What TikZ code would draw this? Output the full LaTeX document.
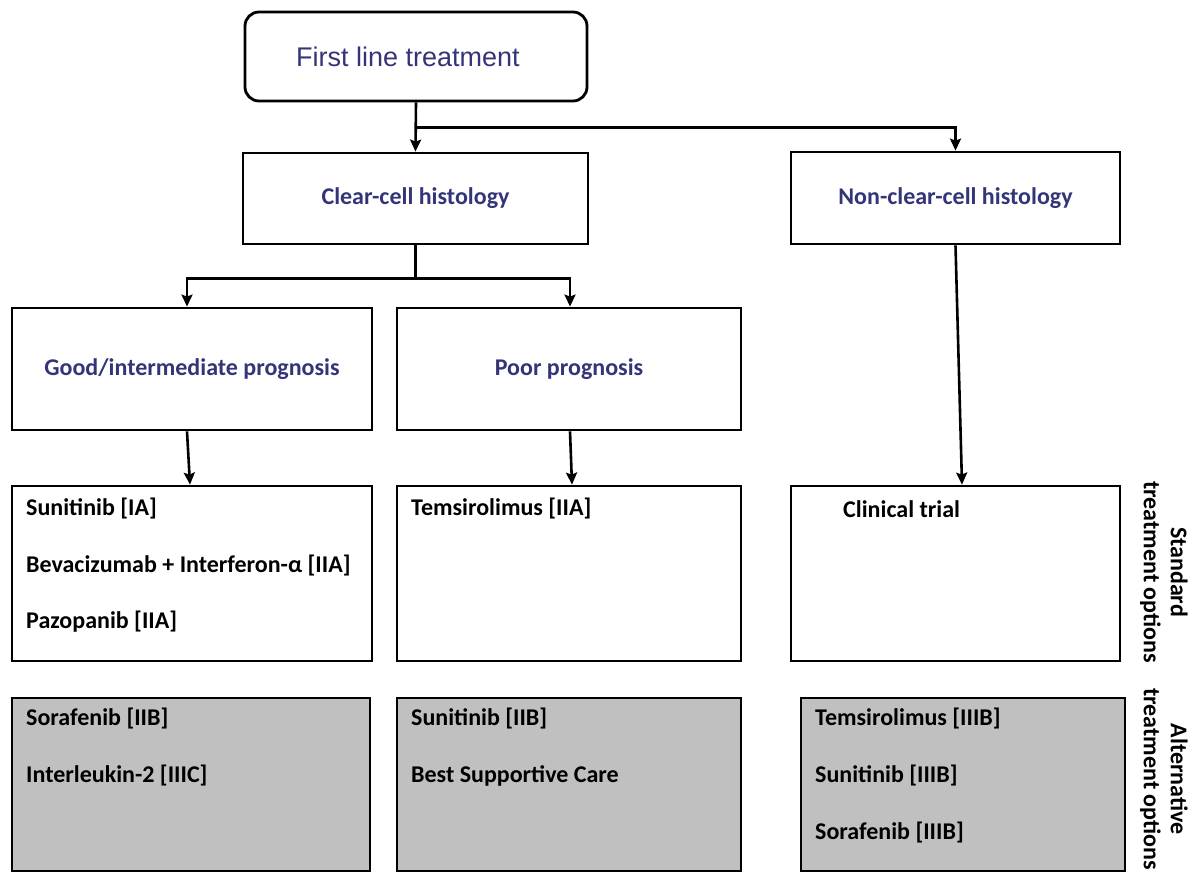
\documentclass[tikz,border=0pt]{standalone}
\usepackage{fontspec}
\setmainfont{Carlito}
\newfontfamily\arialf{Liberation Sans}
\usetikzlibrary{arrows.meta}
\definecolor{hdr}{RGB}{52,52,120}
\definecolor{altgray}{RGB}{192,192,192}
\tikzset{
  box/.style={draw, line width=2.8pt, inner sep=0pt, rectangle},
  hdrtext/.style={font=\fontsize{24}{28}\selectfont\bfseries, text=hdr},
  item/.style={font=\fontsize{24}{28}\selectfont\bfseries, anchor=west, inner sep=0pt},
  side/.style={font=\fontsize{24}{27}\selectfont\bfseries, align=center, rotate=-90, inner sep=0pt},
  conn/.style={line width=2.6pt},
  arr/.style={line width=2.6pt, -{Stealth[length=12pt,width=11pt,inset=2pt]}}
}
\begin{document}
\begin{tikzpicture}[x=1pt,y=-1pt]
\useasboundingbox (0,0) rectangle (1195,873);
% boxes
\node[box, rounded corners=14pt, minimum width=342pt, minimum height=89pt] (top) at (416,56.5) {};
\node[font=\arialf\fontsize{27}{30}\selectfont, text=hdr, inner sep=0pt] (toptext) at (408,57) {First line treatment};
\node[box, minimum width=345pt, minimum height=91pt, hdrtext] (clear) at (415.5,198.5) {Clear-cell histology};
\node[box, minimum width=329pt, minimum height=92pt, hdrtext] (nonclear) at (955.5,198) {Non-clear-cell histology};
\node[box, minimum width=360pt, minimum height=122pt, hdrtext] (good) at (192,369) {Good/intermediate prognosis};
\node[box, minimum width=344pt, minimum height=122pt, hdrtext] (poor) at (569,369) {Poor prognosis};
\node[box, minimum width=360pt, minimum height=175pt] (std1) at (192,573.5) {};
\node[box, minimum width=344pt, minimum height=175pt] (std2) at (569,573.5) {};
\node[box, minimum width=329pt, minimum height=175pt] (std3) at (955.5,573.5) {};
\node[box, fill=altgray, minimum width=358pt, minimum height=173pt] (alt1) at (191,784.5) {};
\node[box, fill=altgray, minimum width=344pt, minimum height=173pt] (alt2) at (569,784.5) {};
\node[box, fill=altgray, minimum width=324pt, minimum height=173pt] (alt3) at (963,784.5) {};
% items
\node[item] (s1a) at (26,509) {Sunitinib [IA]};
\node[item] (s1b) at (26,566) {Bevacizumab + Interferon-α [IIA]};
\node[item] (s1c) at (26,622) {Pazopanib [IIA]};
\node[item] (s2a) at (411,509) {Temsirolimus [IIA]};
\node[item] (s3a) at (843,509) {Clinical trial};
\node[item] (a1a) at (26,719) {Sorafenib [IIB]};
\node[item] (a1b) at (26,776) {Interleukin-2 [IIIC]};
\node[item] (a2a) at (411,719) {Sunitinib [IIB]};
\node[item] (a2b) at (411,776) {Best Supportive Care};
\node[item] (a3a) at (815,719) {Temsirolimus [IIIB]};
\node[item] (a3b) at (815,776) {Sunitinib [IIIB]};
\node[item] (a3c) at (815,832) {Sorafenib [IIIB]};
% side labels
\node[side] (sstd) at (1164,572) {Standard\\treatment options};
\node[side] (salt) at (1164,779) {Alternative\\treatment options};
% connectors
\draw[arr] (top.south) -- (clear.north);
\draw[arr] (top.south) ++(0,25) coordinate (tj) -| (nonclear.north);
\draw[conn] (clear.south) -- ++(0,33) coordinate (cj);
\draw[arr] (cj) -| ([xshift=-5pt]good.north);
\draw[arr] (cj) -| ([xshift=1pt]poor.north);
\draw[arr] ([xshift=-5pt]good.south) -- ([xshift=-2pt]std1.north);
\draw[arr] ([xshift=1pt]poor.south) -- ([xshift=3pt]std2.north);
\draw[arr] (nonclear.south) -- ([xshift=6.5pt]std3.north);
\end{tikzpicture}
\end{document}
